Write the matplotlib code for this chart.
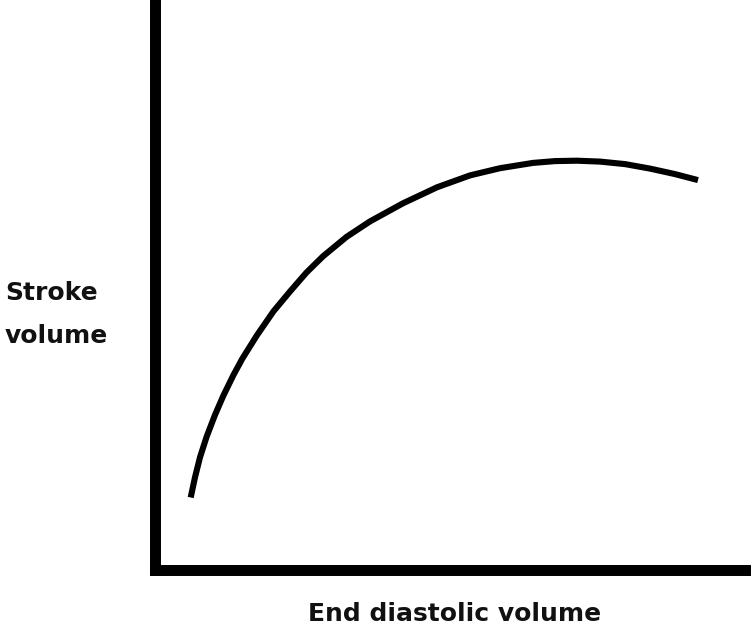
import matplotlib
matplotlib.use("Agg")
import matplotlib.pyplot as plt

H_PX = 631
edv = [190.7, 195, 200, 206.7, 215, 223.3, 233.3, 242.3, 257, 273.5, 290, 306.5,
       323, 346.5, 370, 403, 437, 470, 500, 533, 555, 577, 600, 625, 650, 675, 698]
sv_top = [497.5, 477.3, 457.3, 436.5, 414.9, 395.8, 375.3, 358.7, 335.2, 311.3,
          291.5, 272.5, 256.3, 236.9, 221.4, 203.3, 187.3, 175.4, 168.2, 162.9,
          161.1, 160.7, 161.6, 164.1, 168.6, 174.1, 180.1]
sv = [H_PX - v for v in sv_top]

x_label = "End diastolic volume"
y_label_lines = ["Stroke", "volume"]

W, H = 754, 631
fig = plt.figure(figsize=(W / 100, H / 100), dpi=100)
x0, x1 = 154.5, 745
y0, y1 = 61, 628
ax = fig.add_axes([x0 / W, y0 / H, (x1 - x0) / W, (y1 - y0) / H])
ax.set_xlim(x0, x1)
ax.set_ylim(y0, y1)
ax.plot(edv, sv, color="black", lw=4.4, solid_capstyle="butt",
        solid_joinstyle="round")

for s in ["top", "right"]:
    ax.spines[s].set_visible(False)
for s in ["left", "bottom"]:
    ax.spines[s].set_linewidth(7.9)
    ax.spines[s].set_capstyle("projecting")
ax.set_xticks([])
ax.set_yticks([])
ax.patch.set_alpha(0)

fs = 18
fig.text(455 / W, 1 - 621 / H, x_label, ha="center", va="baseline", fontsize=fs,
         family="DejaVu Sans", weight="bold", color="#111111")
for line, base in zip(y_label_lines, [300, 343]):
    fig.text(5 / W, 1 - base / H, line, ha="left", va="baseline", fontsize=fs,
             family="DejaVu Sans", weight="bold", color="#111111")

fig.savefig("out.png", dpi=100)
